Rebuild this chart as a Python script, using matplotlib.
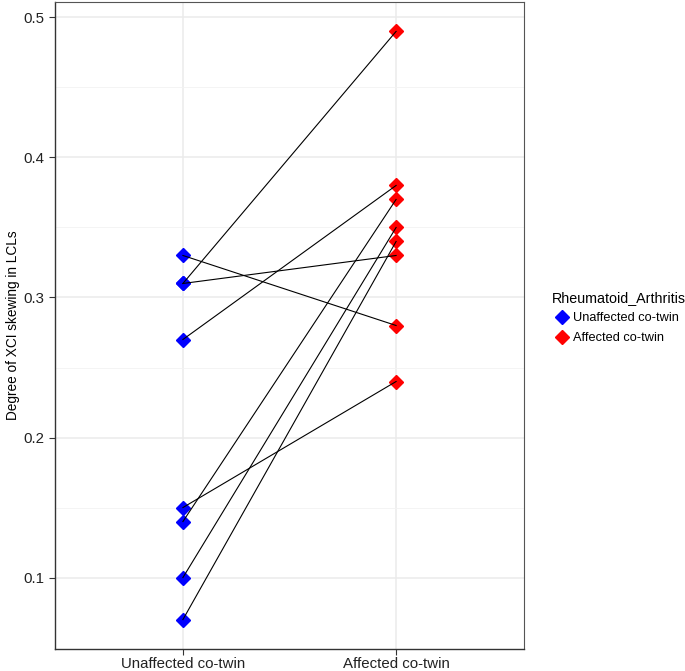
import numpy as np
import matplotlib
matplotlib.use('Agg')
import matplotlib.pyplot as plt
from matplotlib.lines import Line2D

groups = ['Unaffected co-twin', 'Affected co-twin']
unaffected = [0.33, 0.31, 0.31, 0.27, 0.15, 0.14, 0.10, 0.07]
affected = [0.28, 0.49, 0.33, 0.38, 0.24, 0.37, 0.35, 0.34]
colors = ['#0000FF', '#FF0000']
legend_title = 'Rheumatoid_Arthritis'

plt.rcParams['font.family'] = ['Liberation Sans', 'DejaVu Sans']

fig = plt.figure(figsize=(6.85, 6.71), dpi=100)
ax = fig.add_axes([55 / 685, 22 / 671, 469 / 685, 647 / 671])

x = np.arange(1, len(groups) + 1)
for u, a in zip(unaffected, affected):
    ax.plot(x, [u, a], color='black', lw=0.8, zorder=4)
ax.plot(np.full(len(unaffected), x[0]), unaffected, ls='none', marker='D', ms=7.5,
        color=colors[0], mec=colors[0], zorder=3)
ax.plot(np.full(len(affected), x[1]), affected, ls='none', marker='D', ms=7.5,
        color=colors[1], mec=colors[1], zorder=3)

ax.set_xlim(0.4, 2.6)
ax.set_ylim(0.049, 0.511)
ax.set_xticks(x)
ax.set_xticklabels(groups, fontsize=10.8)
ax.set_yticks([0.1, 0.2, 0.3, 0.4, 0.5])
ax.set_yticklabels(['0.1', '0.2', '0.3', '0.4', '0.5'], fontsize=10.8)
ax.set_yticks([0.15, 0.25, 0.35, 0.45], minor=True)
ax.grid(which='major', color='#EBEBEB', lw=1.1, zorder=0)
ax.grid(which='minor', axis='y', color='#F2F2F2', lw=0.6, zorder=0)
ax.set_axisbelow(True)
ax.tick_params(axis='both', which='major', length=4, color='#333333', labelcolor='#222222')
ax.tick_params(axis='x', which='major', pad=1.5)
ax.tick_params(axis='both', which='minor', length=0)
for s in ['top', 'right']:
    ax.spines[s].set_color('#555555')
    ax.spines[s].set_linewidth(0.8)
for s in ['left', 'bottom']:
    ax.spines[s].set_color('#333333')
    ax.spines[s].set_linewidth(1.0)
ax.set_ylabel('Degree of XCI skewing in LCLs', fontsize=9.8)
ax.yaxis.set_label_coords(-0.075, 0.5)

handles = [Line2D([], [], ls='none', marker='D', ms=7, color=c, mec=c) for c in colors]
leg = fig.legend(handles, groups, title=legend_title, loc='center left',
                 bbox_to_anchor=(540 / 685, 0.527), frameon=False, fontsize=9.2,
                 title_fontsize=10.3, handletextpad=0.1, labelspacing=0.6, handlelength=1.6)
leg._legend_box.align = 'left'

fig.savefig('out.png', dpi=100)
